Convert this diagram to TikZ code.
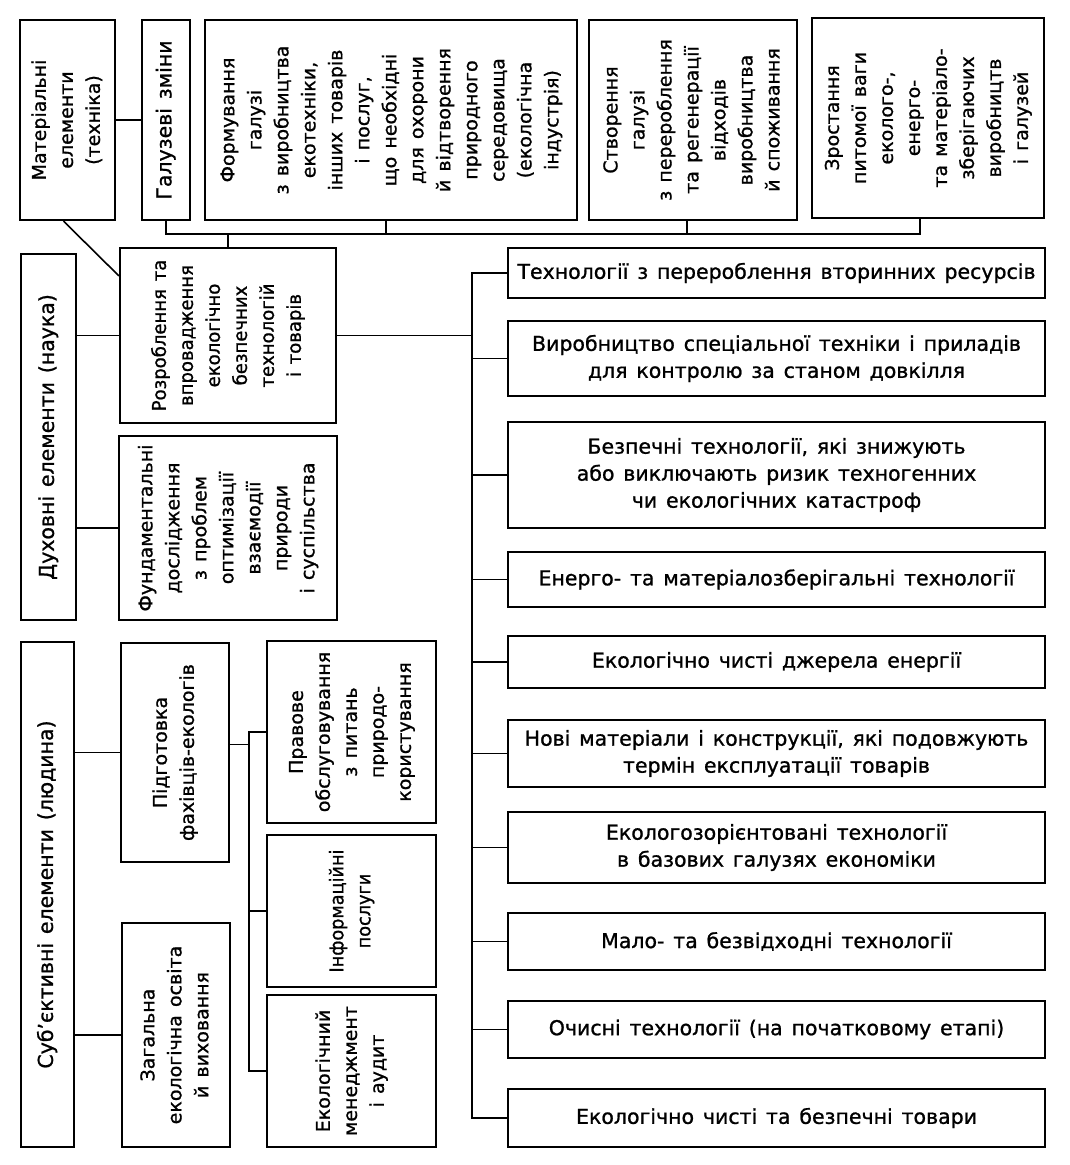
\documentclass[tikz,border=0pt]{standalone}
\usepackage{fontspec}
\setmainfont{DejaVu Sans}[WordSpace=1.35, FakeBold=1]
\usepackage{graphicx}
\newcommand{\vt}[2][1]{\rotatebox{90}{\scalebox{#1}[1]{\begin{tabular}{@{}c@{}}#2\end{tabular}}}}
\renewcommand{\arraystretch}{1}
\begin{document}
\begin{tikzpicture}[x=1pt,y=-1pt,
  box/.style={draw, line width=2.2pt, inner sep=0pt, align=center,
    font=\fontsize{20.5}{27}\selectfont},
  vbox/.style={box, font=\fontsize{19}{27}\selectfont},
  rbox/.style={box, minimum width=537pt},
  con/.style={line width=1.6pt}]
\fill[white] (0,0) rectangle (1069,1165);
\useasboundingbox (0,0) rectangle (1069,1165);
% top row
\node[vbox, minimum width=95pt, minimum height=200pt] (A) at (67.5,120) {\vt{Матеріальні\\елементи\\(техніка)}};
\node[box, minimum width=48pt, minimum height=200pt] (B) at (166,120) {\vt{Галузеві зміни}};
\node[vbox, minimum width=372pt, minimum height=200pt] (C) at (391,120) {\vt{Формування\\галузі\\з виробництва\\екотехніки,\\інших товарів\\і послуг,\\що необхідні\\для охорони\\й відтворення\\природного\\середовища\\(екологічна\\індустрія)}};
\node[vbox, minimum width=208pt, minimum height=200pt] (D) at (693,120) {\vt{Створення\\галузі\\з перероблення\\та регенерації\\відходів\\виробництва\\й споживання}};
\node[vbox, minimum width=232pt, minimum height=200pt] (E) at (928,118) {\vt{Зростання\\питомої ваги\\еколого-,\\енерго-\\та матеріало-\\зберігаючих\\виробництв\\і галузей}};
% left column
\node[vbox, minimum width=216pt, minimum height=175pt] (R) at (228,335.5) {\vt[0.95]{Розроблення та\\впровадження\\екологічно\\безпечних\\технологій\\і товарів}};
\node[box, minimum width=55pt, minimum height=366pt] (Dh) at (48.5,437) {\vt{Духовні елементи (наука)}};
\node[vbox, minimum width=218pt, minimum height=184pt] (F) at (228,528) {\vt{Фундаментальні\\дослідження\\з проблем\\оптимізації\\взаємодії\\природи\\і суспільства}};
\node[box, minimum width=53pt, minimum height=505pt] (S) at (47.5,894.5) {\vt{Суб’єктивні елементи (людина)}};
\node[vbox, minimum width=108pt, minimum height=219pt] (P) at (175,752.5) {\vt{Підготовка\\фахівців-екологів}};
\node[vbox, minimum width=108pt, minimum height=224pt] (Z) at (176,1035) {\vt{Загальна\\екологічна освіта\\й виховання}};
\node[vbox, minimum width=169pt, minimum height=182pt] (Pr) at (351.5,732) {\vt{Правове\\обслуговування\\з питань\\природо-\\користування}};
\node[vbox, minimum width=169pt, minimum height=152pt] (In) at (351.5,911) {\vt[0.93]{Інформаційні\\послуги}};
\node[vbox, minimum width=169pt, minimum height=152pt] (Em) at (351.5,1071) {\vt{Екологічний\\менеджмент\\і аудит}};
% right column
\node[rbox, minimum height=50pt] (T1) at (776.5,273) {Технології з перероблення вторинних ресурсів};
\node[rbox, minimum height=75pt] (T2) at (776.5,358.5) {Виробництво спеціальної техніки і приладів\\для контролю за станом довкілля};
\node[rbox, minimum height=106pt] (T3) at (776.5,475) {Безпечні технології, які знижують\\або виключають ризик техногенних\\чи екологічних катастроф};
\node[rbox, minimum height=55pt] (T4) at (776.5,579.5) {Енерго- та матеріалозберігальні технології};
\node[rbox, minimum height=52pt] (T5) at (776.5,662) {Екологічно чисті джерела енергії};
\node[rbox, minimum height=67pt] (T6) at (776.5,753.5) {Нові матеріали і конструкції, які подовжують\\термін експлуатації товарів};
\node[rbox, minimum height=71pt] (T7) at (776.5,847.5) {Екологозорієнтовані технології\\в базових галузях економіки};
\node[rbox, minimum height=57pt] (T8) at (776.5,941.5) {Мало- та безвідходні технології};
\node[rbox, minimum height=57pt] (T9) at (776.5,1029.5) {Очисні технології (на початковому етапі)};
\node[rbox, minimum height=58pt] (T10) at (776.5,1118) {Екологічно чисті та безпечні товари};
% helper coordinates
\coordinate (tb) at (0,234);
\coordinate (bt) at (472,0);
\coordinate (br) at (249,0);
% connectors
\draw[con] (A) -- (B);
\draw[con] (B.south) |- ([xshift=-8pt]E.south |- tb) -- ([xshift=-8pt]E.south);
\draw[con] ([xshift=-5pt]C.south) -- ([xshift=-5pt]C.south |- tb);
\draw[con] ([xshift=-6pt]D.south) -- ([xshift=-6pt]D.south |- tb);
\draw[con] (R.north) -- (R.north |- tb);
\draw[con] ([xshift=-4pt]A.south) -- ([yshift=-29pt]R.north west);
\draw[con] (R.west) -- (R.west -| Dh.east);
\draw[con] (F.west) -- (F.west -| Dh.east);
\draw[con] (R.east) -- (R.east -| bt);
\draw[con] (T1.west) -- (T1.west -| bt) -- (T10.west -| bt) -- (T10.west);
\foreach \t in {T2,T3,T4,T5,T6,T7,T8,T9} \draw[con] (\t.west) -- (\t.west -| bt);
\draw[con] (P.west) -- (P.west -| S.east);
\draw[con] (Z.west) -- (Z.west -| S.east);
\draw[con] ([yshift=8pt]P.east) -- ([yshift=8pt]P.east -| br);
\draw[con] (Pr.west) -- (Pr.west -| br) -- (Em.west -| br) -- (Em.west);
\draw[con] (In.west) -- (In.west -| br);
\end{tikzpicture}
\end{document}
